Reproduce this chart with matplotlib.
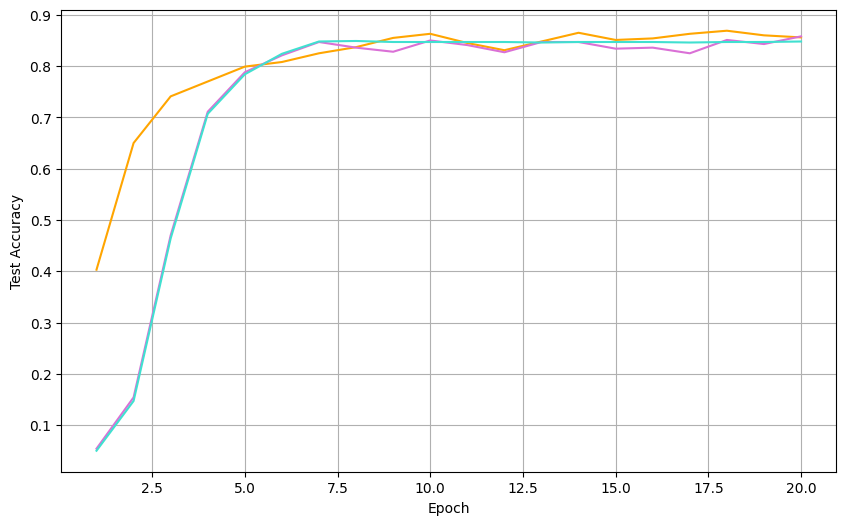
import matplotlib
matplotlib.use("Agg")
import matplotlib.pyplot as plt
from matplotlib.ticker import MultipleLocator

EPOCHS = list(range(1, 21))
ACC_ORANGE = [0.403, 0.650, 0.741, 0.770, 0.799, 0.808, 0.825, 0.837, 0.855, 0.863,
              0.845, 0.831, 0.848, 0.865, 0.851, 0.854, 0.863, 0.869, 0.860, 0.856]
ACC_ORCHID = [0.054, 0.154, 0.470, 0.711, 0.788, 0.821, 0.847, 0.836, 0.828, 0.850,
              0.841, 0.827, 0.847, 0.847, 0.834, 0.836, 0.825, 0.851, 0.843, 0.858]
ACC_TURQ = [0.050, 0.147, 0.464, 0.707, 0.784, 0.824, 0.848, 0.849, 0.847, 0.847,
            0.847, 0.847, 0.846, 0.847, 0.847, 0.847, 0.846, 0.847, 0.847, 0.848]

fig, ax = plt.subplots(figsize=(10, 6))
ax.plot(EPOCHS, ACC_ORANGE, color="orange")
ax.plot(EPOCHS, ACC_ORCHID, color="orchid")
ax.plot(EPOCHS, ACC_TURQ, color="turquoise")
ax.set_xlabel("Epoch")
ax.set_ylabel("Test Accuracy")
ax.yaxis.set_major_locator(MultipleLocator(0.1))
ax.grid(True, color="#b0b0b0")

fig.savefig("out.png", dpi=100, bbox_inches="tight")
